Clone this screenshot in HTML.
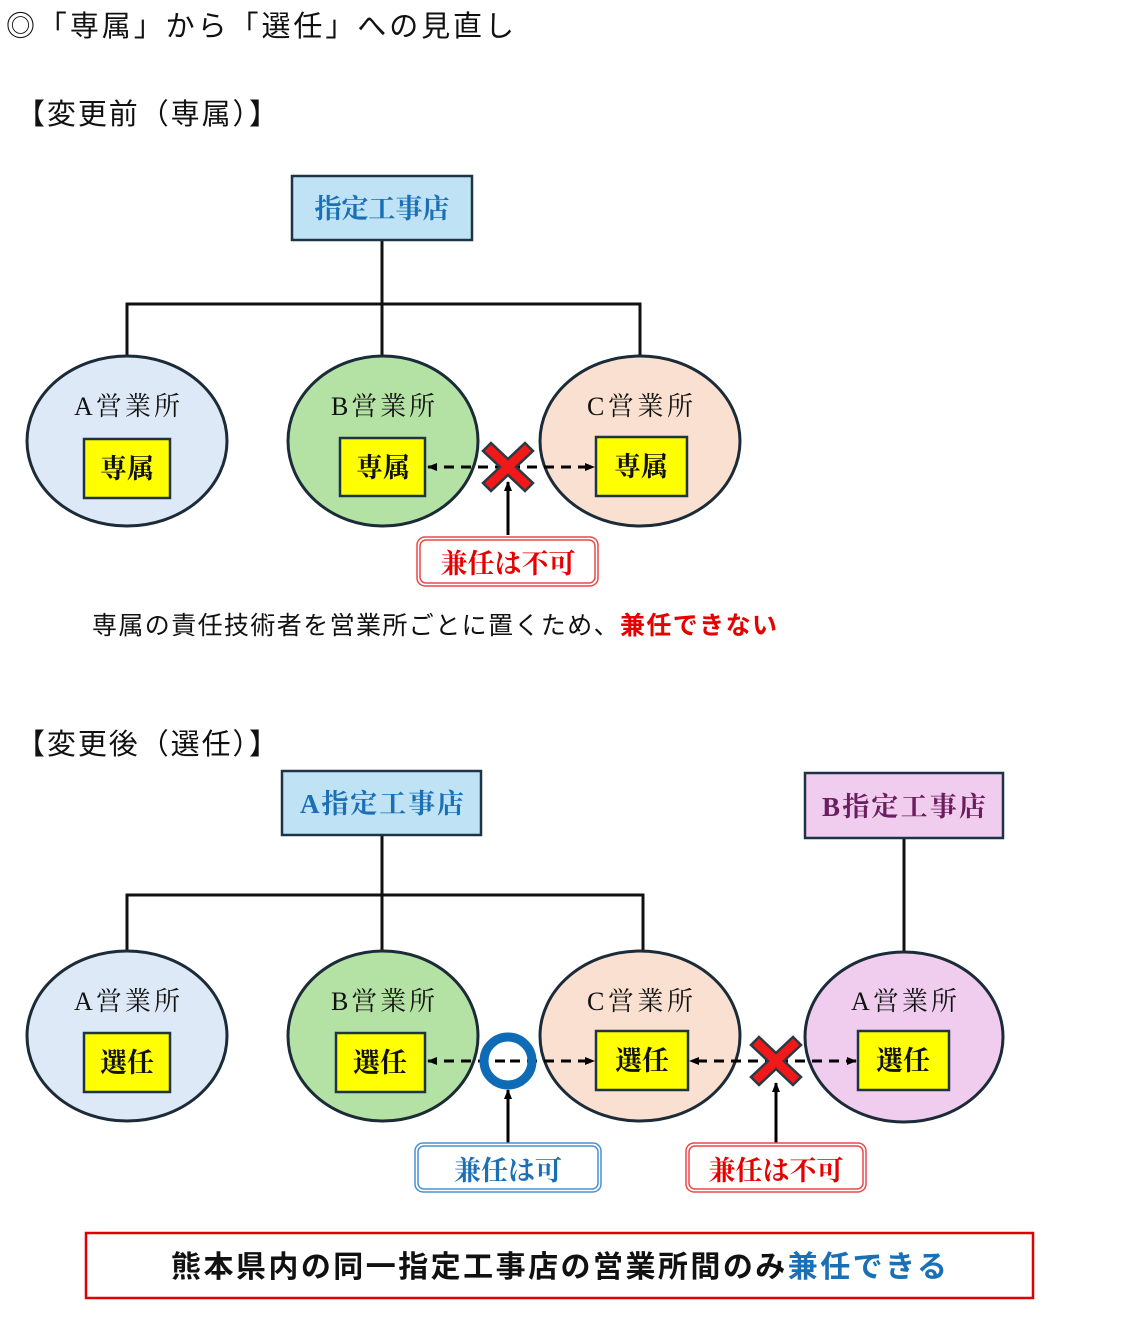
<!DOCTYPE html>
<html><head><meta charset="utf-8"><style>
html,body{margin:0;padding:0;background:#fff;}
svg{display:block;}
.s{font-family:"Liberation Sans","Noto Sans CJK JP",sans-serif;}
.m{font-family:"Liberation Serif","Noto Serif CJK SC",serif;}
</style></head><body>
<svg width="1139" height="1336" viewBox="0 0 1139 1336" xmlns="http://www.w3.org/2000/svg">
<defs>
<marker id="ah" markerWidth="10" markerHeight="10" refX="9" refY="5" orient="auto" markerUnits="userSpaceOnUse"><path d="M0,1 L10,5 L0,9 Z" fill="#000"/></marker>
<g id="xm"><path d="M-17,-24 L0,-8 L17,-24 L25,-16 L8,0 L25,16 L17,24 L0,8 L-17,24 L-25,16 L-8,0 L-25,-16 Z" fill="#f01818" stroke="#2a3a44" stroke-width="2.5" stroke-linejoin="miter"/></g>
</defs>
<text class="s" x="6" y="36" font-size="29" textLength="508" fill="#111">◎「専属」から「選任」への見直し</text>
<text class="s" x="16" y="124" font-size="29" textLength="262" fill="#111">【変更前（専属）】</text>

<g stroke="#111" stroke-width="3" fill="none">
<path d="M382,240 V356 M127,356 V304 H640 V357"/>
</g>
<rect x="292" y="176" width="180" height="64" fill="#bfe3f5" stroke="#1f3347" stroke-width="2.5"/>
<text class="m" x="382" y="218" font-size="27" font-weight="bold" fill="#1a6fb5" text-anchor="middle">指定工事店</text>
<g stroke="#1b2b38" stroke-width="3">
<ellipse cx="127" cy="441" rx="100" ry="85" fill="#dde9f6"/>
<ellipse cx="383" cy="441" rx="95" ry="85" fill="#b4e2a4"/>
<ellipse cx="640" cy="441" rx="100" ry="85" fill="#f9e0d0"/>
</g>
<g class="m" font-size="26" fill="#111" text-anchor="middle">
<text x="127" y="415" textLength="106">A営業所</text><text x="383" y="415" textLength="104">B営業所</text><text x="640" y="415" textLength="106">C営業所</text>
</g>
<g stroke="#1f3347" stroke-width="2.5" fill="#ffff00">
<rect x="84" y="439" width="86" height="59"/><rect x="340" y="438" width="85" height="58"/><rect x="596" y="437" width="91" height="59"/>
</g>
<g class="m" font-size="27" font-weight="bold" fill="#111" text-anchor="middle">
<text x="127" y="478">専属</text><text x="383" y="477">専属</text><text x="641" y="476">専属</text>
</g>
<g stroke="#000" stroke-width="3" stroke-dasharray="10,7" fill="none">
<line x1="505" y1="467" x2="428" y2="467" marker-end="url(#ah)"/>
<line x1="510" y1="467" x2="594" y2="467" marker-end="url(#ah)"/>
</g>
<use href="#xm" x="508" y="467"/>
<line x1="508" y1="535" x2="508" y2="482" stroke="#000" stroke-width="3" marker-end="url(#ah)"/>
<rect x="417" y="537" width="181" height="49" rx="8" fill="#fff" stroke="#e84848" stroke-width="1.5"/>
<rect x="420" y="540" width="175" height="43" rx="6" fill="none" stroke="#e84848" stroke-width="1.5"/>
<text class="m" x="508" y="573" font-size="27" font-weight="bold" fill="#e60000" text-anchor="middle">兼任は不可</text>
<text class="s" x="92" y="634" font-size="25" fill="#111" textLength="685">専属の責任技術者を営業所ごとに置くため、<tspan fill="#e60000" font-weight="bold">兼任できない</tspan></text>

<text class="s" x="16" y="754" font-size="29" textLength="262" fill="#111">【変更後（選任）】</text>
<g stroke="#111" stroke-width="3" fill="none">
<path d="M382,835 V950 M127,950 V895 H643 V950 M904,838 V952"/>
</g>
<rect x="282" y="771" width="199" height="64" fill="#bfe3f5" stroke="#1f3347" stroke-width="2.5"/>
<text class="m" x="382" y="813" font-size="27" font-weight="bold" fill="#1a6fb5" text-anchor="middle" textLength="164">A指定工事店</text>
<rect x="805" y="773" width="198" height="65" fill="#f0cdee" stroke="#1f3347" stroke-width="2.5"/>
<text class="m" x="904" y="816" font-size="27" font-weight="bold" fill="#6b1d5e" text-anchor="middle" textLength="164">B指定工事店</text>
<g stroke="#1b2b38" stroke-width="3">
<ellipse cx="127" cy="1036" rx="100" ry="85" fill="#dde9f6"/>
<ellipse cx="383" cy="1036" rx="95" ry="85" fill="#b4e2a4"/>
<ellipse cx="640" cy="1036" rx="100" ry="85" fill="#f9e0d0"/>
<ellipse cx="904" cy="1037" rx="99" ry="85" fill="#f0cdee"/>
</g>
<g class="m" font-size="26" fill="#111" text-anchor="middle">
<text x="127" y="1010" textLength="106">A営業所</text><text x="383" y="1010" textLength="104">B営業所</text><text x="640" y="1010" textLength="106">C営業所</text><text x="904" y="1010" textLength="106">A営業所</text>
</g>
<g stroke="#1f3347" stroke-width="2.5" fill="#ffff00">
<rect x="84" y="1033" width="86" height="59"/><rect x="336" y="1033" width="89" height="59"/><rect x="596" y="1031" width="92" height="59"/><rect x="858" y="1031" width="91" height="59"/>
</g>
<g class="m" font-size="27" font-weight="bold" fill="#111" text-anchor="middle">
<text x="127" y="1072">選任</text><text x="380" y="1072">選任</text><text x="642" y="1070">選任</text><text x="903" y="1070">選任</text>
</g>
<g stroke="#000" stroke-width="3" stroke-dasharray="10,7" fill="none">
<line x1="505" y1="1061" x2="428" y2="1061" marker-end="url(#ah)"/>
<line x1="510" y1="1061" x2="594" y2="1061" marker-end="url(#ah)"/>
<line x1="775" y1="1061" x2="690" y2="1061" marker-end="url(#ah)"/>
<line x1="778" y1="1061" x2="856" y2="1061" marker-end="url(#ah)"/>
</g>
<circle cx="508" cy="1061" r="24" fill="none" stroke="#0f6bb5" stroke-width="9"/>
<use href="#xm" x="776" y="1061"/>
<line x1="508" y1="1143" x2="508" y2="1090" stroke="#000" stroke-width="3" marker-end="url(#ah)"/>
<line x1="776" y1="1143" x2="776" y2="1083" stroke="#000" stroke-width="3" marker-end="url(#ah)"/>
<rect x="415" y="1143" width="186" height="49" rx="8" fill="#fff" stroke="#4a90d0" stroke-width="1.5"/>
<rect x="418" y="1146" width="180" height="43" rx="6" fill="none" stroke="#4a90d0" stroke-width="1.5"/>
<text class="m" x="508" y="1180" font-size="27" font-weight="bold" fill="#1a6fb5" text-anchor="middle">兼任は可</text>
<rect x="686" y="1143" width="180" height="49" rx="8" fill="#fff" stroke="#e84848" stroke-width="1.5"/>
<rect x="689" y="1146" width="174" height="43" rx="6" fill="none" stroke="#e84848" stroke-width="1.5"/>
<text class="m" x="776" y="1180" font-size="27" font-weight="bold" fill="#e60000" text-anchor="middle">兼任は不可</text>
<rect x="86" y="1233" width="947" height="65" fill="#fff" stroke="#e00000" stroke-width="2.5"/>
<text class="s" x="559" y="1277" font-size="30" font-weight="bold" fill="#111" text-anchor="middle" textLength="776">熊本県内の同一指定工事店の営業所間のみ<tspan fill="#1a6fb5">兼任できる</tspan></text>
</svg>
</body></html>
